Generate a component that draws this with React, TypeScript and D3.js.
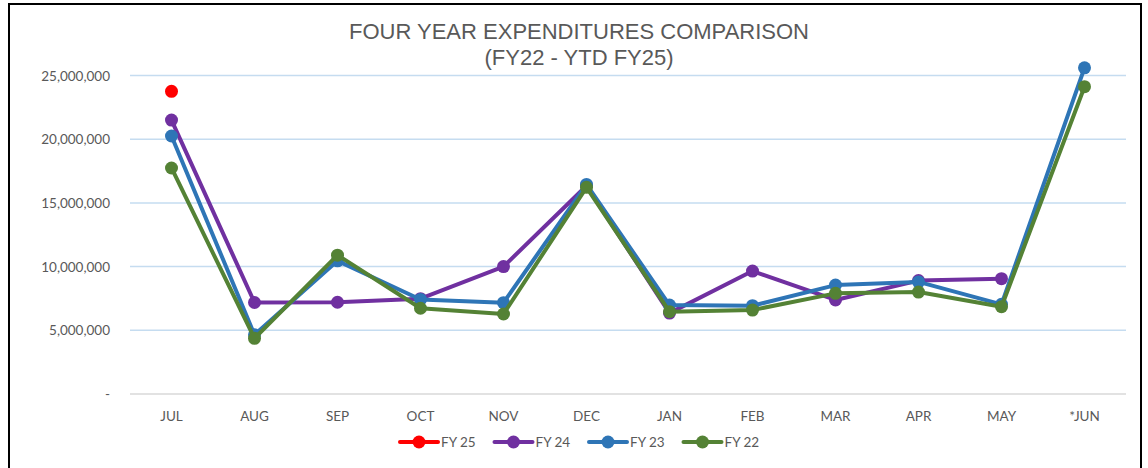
import React from 'react';
import * as d3 from 'd3';

const months = ['JUL', 'AUG', 'SEP', 'OCT', 'NOV', 'DEC', 'JAN', 'FEB', 'MAR', 'APR', 'MAY', '*JUN'];

const fy25 = [23760000, null, null, null, null, null, null, null, null, null, null, null];
const fy24 = [21500000, 7180000, 7200000, 7480000, 10000000, 16350000, 6350000, 9650000, 7380000, 8900000, 9050000, null];
const fy23 = [20250000, 4650000, 10450000, 7420000, 7170000, 16450000, 6980000, 6930000, 8550000, 8800000, 7040000, 25600000];
const fy22 = [17740000, 4370000, 10900000, 6730000, 6280000, 16220000, 6460000, 6590000, 7900000, 8000000, 6850000, 24120000];

const seriesNames = ['FY 25', 'FY 24', 'FY 23', 'FY 22'];
const seriesColors = ['#FF0000', '#7030A0', '#2E75B6', '#548235'];
const yTicks = [0, 5000000, 10000000, 15000000, 20000000, 25000000];

const W = 1148;
const H = 468;
const margin = { top: 75.5, left: 130, right: 22, bottom: 74 };

export default function App() {
  const series = [fy25, fy24, fy23, fy22];

  const x = d3.scaleBand<string>()
    .domain(months)
    .range([margin.left, W - margin.right]);

  const y = d3.scaleLinear()
    .domain([0, 25000000])
    .range([H - margin.bottom, margin.top]);

  const cx = (m: string) => (x(m) as number) + x.bandwidth() / 2;

  const line = d3.line<number | null>()
    .defined(d => d !== null)
    .x((_, i) => cx(months[i]))
    .y(d => y(d as number));

  const fmt = d3.format(',');
  const tickFont = 'Lato, "Open Sans", sans-serif';
  const titleFont = '"Liberation Sans", Arial, sans-serif';

  return (
    <svg width={W} height={H} style={{ position: 'absolute', left: 0, top: 0, background: '#fff' }}>
      <rect x={9} y={4} width={1132} height={470} fill="#fff" stroke="#000" strokeWidth={2} />

      <text x={579} y={39} textAnchor="middle" fontFamily={titleFont} fontSize={22} fill="#595959">
        FOUR YEAR EXPENDITURES COMPARISON
      </text>
      <text x={579} y={65} textAnchor="middle" fontFamily={titleFont} fontSize={22} fill="#595959">
        (FY22 - YTD FY25)
      </text>

      {yTicks.map(t => (
        <g key={t}>
          {t > 0 && (
            <line x1={margin.left} x2={W - margin.right} y1={y(t)} y2={y(t)} stroke="#C5DCF0" strokeWidth={1.5} />
          )}
          <text x={110} y={y(t) + 5} textAnchor="end" fontFamily={tickFont} fontSize={13.5} fill="#595959">
            {t === 0 ? '-' : fmt(t)}
          </text>
        </g>
      ))}
      <line x1={margin.left} x2={W - margin.right} y1={y(0)} y2={y(0)} stroke="#D9D9D9" strokeWidth={1.5} />

      {months.map(m => (
        <text key={m} x={cx(m)} y={y(0) + 27} textAnchor="middle" fontFamily={tickFont} fontSize={13.5} fill="#595959">
          {m}
        </text>
      ))}

      {series.map((s, si) => (
        <g key={seriesNames[si]}>
          <path d={line(s) || ''} fill="none" stroke={seriesColors[si]} strokeWidth={4} strokeLinejoin="round" />
          {s.map((v, i) => v === null ? null : (
            <circle key={i} cx={cx(months[i])} cy={y(v)} r={6.5} fill={seriesColors[si]} />
          ))}
        </g>
      ))}

      {seriesNames.map((name, i) => {
        const lx = 400 + i * 94.5;
        return (
          <g key={name}>
            <line x1={lx} x2={lx + 38} y1={442} y2={442} stroke={seriesColors[i]} strokeWidth={4} strokeLinecap="round" />
            <circle cx={lx + 19} cy={442} r={6.5} fill={seriesColors[i]} />
            <text x={lx + 41} y={447} fontFamily={tickFont} fontSize={13.5} fill="#595959">{name}</text>
          </g>
        );
      })}
    </svg>
  );
}
